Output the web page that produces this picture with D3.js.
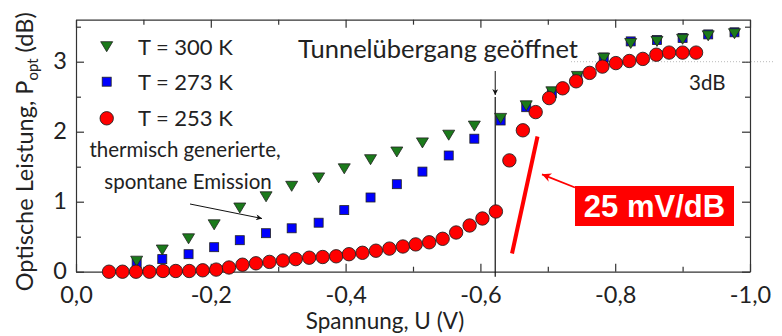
<!DOCTYPE html>
<html>
<head>
<meta charset="utf-8">
<script src="https://cdn.jsdelivr.net/npm/d3@7"></script>
<style>
  body { margin: 0; background: #fff; }
  text { font-family: Lato, "Open Sans", sans-serif; fill: #222; }
</style>
</head>
<body>
<svg id="svg1" width="782" height="336"></svg>
<script>
// Spannung (V, Betrag) und optische Leistung (dB) je Temperatur
const uRed = [0.049, 0.069, 0.089, 0.109, 0.129, 0.148, 0.168, 0.188, 0.208, 0.227,
  0.247, 0.267, 0.287, 0.307, 0.326, 0.346, 0.366, 0.386, 0.405, 0.425,
  0.445, 0.465, 0.485, 0.504, 0.524, 0.544, 0.564, 0.584, 0.603, 0.623,
  0.643, 0.663, 0.682, 0.702, 0.722, 0.742, 0.762, 0.781, 0.801, 0.821,
  0.841, 0.861, 0.880, 0.900, 0.920];
const pRed = [0.0, 0.0, 0.0, 0.0, 0.01, 0.01, 0.01, 0.02, 0.03, 0.06,
  0.10, 0.12, 0.14, 0.16, 0.18, 0.20, 0.21, 0.22, 0.25, 0.27,
  0.30, 0.33, 0.36, 0.39, 0.42, 0.47, 0.56, 0.66, 0.76, 0.86,
  1.59, 2.02, 2.28, 2.48, 2.62, 2.72, 2.84, 2.93, 2.98, 3.01,
  3.04, 3.10, 3.13, 3.13, 3.13];

const uGB = [0.090, 0.128, 0.167, 0.205, 0.243, 0.282, 0.320, 0.360, 0.398, 0.437,
  0.476, 0.514, 0.553, 0.591, 0.630, 0.668, 0.706, 0.744, 0.783, 0.823,
  0.862, 0.900, 0.938, 0.977];
const pGreen = [0.15, 0.31, 0.47, 0.67, 0.91, 1.07, 1.22, 1.34, 1.47, 1.60,
  1.71, 1.84, 1.95, 2.08, 2.19, 2.37, 2.57, 2.79, 3.05, 3.26,
  3.29, 3.32, 3.37, 3.40];
const pBlue = [0.12, 0.18, 0.25, 0.35, 0.45, 0.55, 0.62, 0.70, 0.88, 1.06,
  1.25, 1.43, 1.66, 1.90, 2.16, 2.35, 2.55, 2.77, 3.06, 3.29,
  3.31, 3.34, 3.39, 3.42];

const legendLabels = ['T = 300 K', 'T = 273 K', 'T = 253 K'];
const xMajor = [0, -0.2, -0.4, -0.6, -0.8, -1.0];
const xMinor = [-0.1, -0.3, -0.5, -0.7, -0.9];
const yMajor = [0, 1, 2, 3];
const yMinor = [0.5, 1.5, 2.5, 3.5];

const svg = d3.select('#svg1');
const mLeft = 76, mRight = 750, mBottom = 271.7;

const x = d3.scaleLinear().domain([0, -1]).range([mLeft, mRight]);
const y = d3.scaleLinear().domain([0, 3.6]).range([mBottom, mBottom - 3.6 * 70]);

const de = d3.formatLocale({ decimal: ',', thousands: '.', grouping: [3], currency: ['', ''], minus: '-' });
const fmt = de.format('.1f');

// Rahmen + Ticks nach innen
const axG = svg.append('g').attr('class', 'axes');
const axisStyle = g => {
  g.select('.domain').attr('stroke', '#333').attr('stroke-width', 1.2);
  g.selectAll('.tick line').attr('stroke', '#333').attr('stroke-width', 1.2);
};
const tickText = g => g.selectAll('text')
  .attr('font-size', 23.5).attr('font-family', 'Lato').attr('fill', '#222');

axG.append('g').attr('transform', `translate(0,${mBottom})`)
  .call(d3.axisBottom(x).tickValues(xMajor).tickSizeInner(-8).tickSizeOuter(0).tickPadding(15).tickFormat(fmt))
  .call(axisStyle).call(tickText);
axG.append('g').attr('transform', `translate(0,${mBottom})`)
  .call(d3.axisBottom(x).tickValues(xMinor).tickSizeInner(-5).tickSizeOuter(0).tickFormat(''))
  .call(axisStyle).call(g => g.select('.domain').remove());
axG.append('g').attr('transform', `translate(0,${y(3.6)})`)
  .call(d3.axisTop(x).tickValues(xMajor).tickSizeInner(-8).tickSizeOuter(0).tickFormat(''))
  .call(axisStyle);
axG.append('g').attr('transform', `translate(0,${y(3.6)})`)
  .call(d3.axisTop(x).tickValues(xMinor).tickSizeInner(-5).tickSizeOuter(0).tickFormat(''))
  .call(axisStyle).call(g => g.select('.domain').remove());

axG.append('g').attr('transform', `translate(${mLeft},0)`)
  .call(d3.axisLeft(y).tickValues(yMajor).tickSizeInner(-8).tickSizeOuter(0).tickPadding(9).tickFormat(d3.format('d')))
  .call(axisStyle).call(tickText)
  .call(g => g.selectAll('text').attr('dy', '0.3em'));
axG.append('g').attr('transform', `translate(${mLeft},0)`)
  .call(d3.axisLeft(y).tickValues(yMinor).tickSizeInner(-5).tickSizeOuter(0).tickFormat(''))
  .call(axisStyle).call(g => g.select('.domain').remove());
axG.append('g').attr('transform', `translate(${mRight},0)`)
  .call(d3.axisRight(y).tickValues(yMajor).tickSizeInner(-8).tickSizeOuter(0).tickFormat(''))
  .call(axisStyle);
axG.append('g').attr('transform', `translate(${mRight},0)`)
  .call(d3.axisRight(y).tickValues(yMinor).tickSizeInner(-5).tickSizeOuter(0).tickFormat(''))
  .call(axisStyle).call(g => g.select('.domain').remove());

// Achsentitel
svg.append('text')
  .attr('x', 385).attr('y', 329)
  .attr('text-anchor', 'middle').attr('font-size', 22.5)
  .text('Spannung, U (V)');

const yl = svg.append('text')
  .attr('transform', `translate(33,${(mBottom + 20) / 2 + 6}) rotate(-90)`)
  .attr('text-anchor', 'middle').attr('font-size', 23.5);
yl.append('tspan').text('Optische Leistung, P');
yl.append('tspan').attr('font-size', 15).attr('dy', 5).text('opt');
yl.append('tspan').attr('dy', -5).text(' (dB)');

// 3dB-Linie
svg.append('line')
  .attr('x1', 571).attr('x2', 775)
  .attr('y1', y(3)).attr('y2', y(3))
  .attr('stroke', '#bbb').attr('stroke-width', 1).attr('stroke-dasharray', '1,2');
svg.append('text').attr('x', 689).attr('y', 90).attr('font-size', 20.5).text('3dB');

// Pfeilspitzen
const defs = svg.append('defs');
const marker = (id, color, w, h) => defs.append('marker')
  .attr('id', id).attr('viewBox', '0 0 10 10').attr('refX', 10).attr('refY', 5)
  .attr('markerUnits', 'userSpaceOnUse').attr('markerWidth', w).attr('markerHeight', h)
  .attr('orient', 'auto')
  .append('path').attr('d', 'M0,0 L10,5 L0,10 L3,5 Z').attr('fill', color);
marker('arrBlack', '#111', 9, 6);
marker('arrRed', '#f00', 12, 9);

// Tunnelübergang
svg.append('line')
  .attr('x1', x(-0.622)).attr('x2', x(-0.622))
  .attr('y1', 97).attr('y2', mBottom + 5)
  .attr('stroke', '#111').attr('stroke-width', 1.2);
svg.append('line')
  .attr('x1', x(-0.622)).attr('x2', x(-0.622))
  .attr('y1', 71).attr('y2', 95)
  .attr('stroke', '#111').attr('stroke-width', 1)
  .attr('marker-end', 'url(#arrBlack)');
svg.append('text')
  .attr('x', 438).attr('y', 58)
  .attr('text-anchor', 'middle').attr('font-size', 25.5)
  .text('Tunnelübergang geöffnet');

// thermische Emission
svg.append('text').attr('x', 185).attr('y', 157).attr('text-anchor', 'middle').attr('font-size', 20.5)
  .text('thermisch generierte,');
svg.append('text').attr('x', 188).attr('y', 189).attr('text-anchor', 'middle').attr('font-size', 20.5)
  .text('spontane Emission');
svg.append('line')
  .attr('x1', 190).attr('y1', 204).attr('x2', 262).attr('y2', 218.5)
  .attr('stroke', '#111').attr('stroke-width', 1)
  .attr('marker-end', 'url(#arrBlack)');

// Messpunkte
const plot = svg.append('g');
const tri = 'M-6,-5 L6,-5 L0,5 Z';

plot.selectAll('rect.b').data(uGB.map((u, i) => ({ u, p: pBlue[i] })))
  .enter().append('rect').attr('class', 'b')
  .attr('x', d => x(-d.u) - 4.5).attr('y', d => y(d.p) - 4.5)
  .attr('width', 9).attr('height', 9)
  .attr('fill', '#0000ff').attr('stroke', '#222').attr('stroke-width', 0.8);

plot.selectAll('path.g').data(uGB.map((u, i) => ({ u, p: pGreen[i] })))
  .enter().append('path').attr('class', 'g')
  .attr('d', tri)
  .attr('transform', d => `translate(${x(-d.u)},${y(d.p)})`)
  .attr('fill', '#1b7a1b').attr('stroke', '#222').attr('stroke-width', 0.8);

plot.selectAll('circle.r').data(uRed.map((u, i) => ({ u, p: pRed[i] })))
  .enter().append('circle').attr('class', 'r')
  .attr('cx', d => x(-d.u)).attr('cy', d => y(d.p)).attr('r', 6.7)
  .attr('fill', '#ff0000').attr('stroke', '#222').attr('stroke-width', 0.9);

// Legende
const leg = svg.append('g');
const legY = [46.7, 81.7, 118.3];
leg.append('path').attr('d', tri).attr('transform', `translate(106.7,${legY[0]})`)
  .attr('fill', '#1b7a1b').attr('stroke', '#222').attr('stroke-width', 0.8);
leg.append('rect').attr('x', 102.2).attr('y', legY[1] - 4.5).attr('width', 9).attr('height', 9)
  .attr('fill', '#0000ff').attr('stroke', '#222').attr('stroke-width', 0.8);
leg.append('circle').attr('cx', 106.7).attr('cy', legY[2]).attr('r', 6.7)
  .attr('fill', '#ff0000').attr('stroke', '#222').attr('stroke-width', 0.9);
leg.selectAll('text').data(legendLabels).enter().append('text')
  .attr('x', 138).attr('y', (d, i) => legY[i] + 7.8)
  .attr('font-size', 22)
  .text(d => d);

// Steigung 25 mV/dB
svg.append('line')
  .attr('x1', 537.5).attr('y1', 136.5).attr('x2', 512).attr('y2', 253.5)
  .attr('stroke', '#ff0000').attr('stroke-width', 4);
svg.append('line')
  .attr('x1', 575).attr('y1', 187.5).attr('x2', 542).attr('y2', 174.3)
  .attr('stroke', '#ff0000').attr('stroke-width', 1.8)
  .attr('marker-end', 'url(#arrRed)');
svg.append('rect').attr('x', 575).attr('y', 186).attr('width', 159).attr('height', 40)
  .attr('fill', '#ff0000');
svg.append('text')
  .attr('x', 654.5).attr('y', 217)
  .attr('text-anchor', 'middle')
  .style('font-family', '"Liberation Sans", Arial, sans-serif')
  .style('font-weight', 'bold').style('font-size', '31px')
  .style('fill', '#fff')
  .text('25 mV/dB');
</script>
</body>
</html>
